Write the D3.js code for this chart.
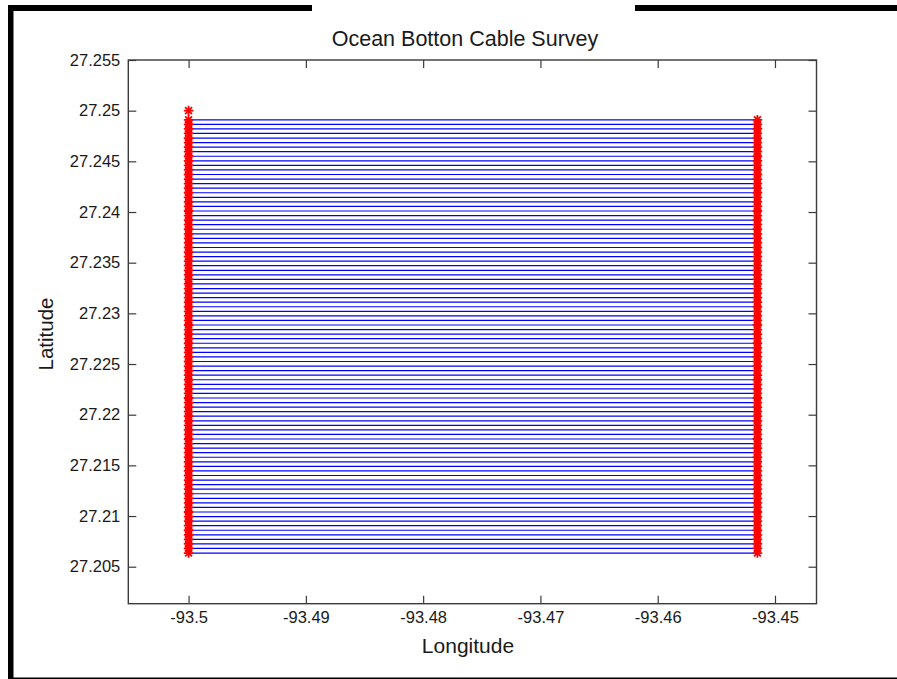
<!DOCTYPE html>
<html>
<head>
<meta charset="utf-8">
<script src="https://cdn.jsdelivr.net/npm/d3@7"></script>
<style>
  html, body { margin: 0; padding: 0; background: #fff; }
  svg { display: block; }
  text { font-family: "Liberation Sans", Arial, Helvetica, sans-serif; fill: #1a1a1a; }
</style>
</head>
<body>
<svg id="chart" width="897" height="679"></svg>
<script>
// Survey line latitudes (one east–west cable line per value)
const lineLatitudes = [
  27.2491, 27.24865, 27.2482, 27.24775, 27.2473, 27.24685, 27.2464, 27.24595, 27.2455, 27.24505,
  27.2446, 27.24415, 27.2437, 27.24325, 27.2428, 27.24235, 27.2419, 27.24145, 27.241, 27.24055,
  27.2401, 27.23965, 27.2392, 27.23875, 27.2383, 27.23785, 27.2374, 27.23695, 27.2365, 27.23605,
  27.2356, 27.23515, 27.2347, 27.23425, 27.2338, 27.23335, 27.2329, 27.23245, 27.232, 27.23155,
  27.2311, 27.23065, 27.2302, 27.22975, 27.2293, 27.22885, 27.2284, 27.22795, 27.2275, 27.22705,
  27.2266, 27.22615, 27.2257, 27.22525, 27.2248, 27.22435, 27.2239, 27.22345, 27.223, 27.22255,
  27.2221, 27.22165, 27.2212, 27.22075, 27.2203, 27.21985, 27.2194, 27.21895, 27.2185, 27.21805,
  27.2176, 27.21715, 27.2167, 27.21625, 27.2158, 27.21535, 27.2149, 27.21445, 27.214, 27.21355,
  27.2131, 27.21265, 27.2122, 27.21175, 27.2113, 27.21085, 27.2104, 27.20995, 27.2095, 27.20905,
  27.2086, 27.20815, 27.2077, 27.20725, 27.2068, 27.20635
];
// Line end longitudes
const westLongitude = -93.5;
const eastLongitude = -93.4515;
// Extra station at the north end of the west column
const westExtraLatitudes = [27.25];

// Axis limits and ticks
const xDomain = [-93.50514, -93.44646];
const yDomain = [27.20135, 27.255];
const xTicks = [-93.5, -93.49, -93.48, -93.47, -93.46, -93.45];
const yTicks = [27.205, 27.21, 27.215, 27.22, 27.225, 27.23, 27.235, 27.24, 27.245, 27.25, 27.255];

const titleText = "Ocean Botton Cable Survey";
const xLabelText = "Longitude";
const yLabelText = "Latitude";

const svg = d3.select("#chart");

// Page frame bars
const frame = svg.append("g").attr("fill", "#000");
frame.append("rect").attr("x", 8).attr("y", 5).attr("width", 5.5).attr("height", 674);
frame.append("rect").attr("x", 8).attr("y", 5).attr("width", 304).attr("height", 6);
frame.append("rect").attr("x", 635).attr("y", 5).attr("width", 262).attr("height", 6);
frame.append("rect").attr("x", 8).attr("y", 677.5).attr("width", 889).attr("height", 1.5);

const plot = { left: 128.3, right: 816.5, top: 60, bottom: 603.7 };

const x = d3.scaleLinear().domain(xDomain).range([plot.left, plot.right]);
const y = d3.scaleLinear().domain(yDomain).range([plot.bottom, plot.top]);

const fmt = d => String(Math.round(d * 1000) / 1000);
const tickLen = 8;
const axisColor = "#3a3a3a";

function styleAxis(g) {
  g.select(".domain").remove();
  g.selectAll(".tick line").attr("stroke", axisColor).attr("stroke-width", 1.2);
  g.selectAll(".tick text").attr("fill", "#1a1a1a").style("font-size", "16.5px")
    .style("font-family", "'Liberation Sans', Arial, sans-serif");
}

// Bottom axis with labels
svg.append("g")
  .attr("transform", `translate(0,${plot.bottom})`)
  .call(d3.axisBottom(x).tickValues(xTicks).tickFormat(fmt).tickSizeInner(-tickLen).tickSizeOuter(0).tickPadding(8))
  .call(styleAxis);
// Top axis ticks
svg.append("g")
  .attr("transform", `translate(0,${plot.top})`)
  .call(d3.axisTop(x).tickValues(xTicks).tickFormat("").tickSizeInner(-tickLen).tickSizeOuter(0))
  .call(styleAxis);
// Left axis with labels
svg.append("g")
  .attr("transform", `translate(${plot.left},0)`)
  .call(d3.axisLeft(y).tickValues(yTicks).tickFormat(fmt).tickSizeInner(-tickLen).tickSizeOuter(0).tickPadding(8))
  .call(styleAxis);
// Right axis ticks
svg.append("g")
  .attr("transform", `translate(${plot.right},0)`)
  .call(d3.axisRight(y).tickValues(yTicks).tickFormat("").tickSizeInner(-tickLen).tickSizeOuter(0))
  .call(styleAxis);

// Axes box
svg.append("rect")
  .attr("x", plot.left).attr("y", plot.top)
  .attr("width", plot.right - plot.left).attr("height", plot.bottom - plot.top)
  .attr("fill", "none").attr("stroke", axisColor).attr("stroke-width", 1.4);

// Cable lines
svg.append("g")
  .selectAll("line")
  .data(lineLatitudes)
  .join("line")
  .attr("x1", x(westLongitude))
  .attr("x2", x(eastLongitude))
  .attr("y1", d => y(d))
  .attr("y2", d => y(d))
  .attr("stroke", "#0000ff")
  .attr("stroke-width", 1.2);

// Asterisk markers at the line ends
const r = 4.8, rd = r * 0.72;
const asterisk = `M${-r},0L${r},0M0,${-r}L0,${r}M${-rd},${-rd}L${rd},${rd}M${-rd},${rd}L${rd},${-rd}`;
const stations = [
  ...westExtraLatitudes.map(lat => ({ lon: westLongitude, lat })),
  ...lineLatitudes.map(lat => ({ lon: westLongitude, lat })),
  ...lineLatitudes.map(lat => ({ lon: eastLongitude, lat }))
];
svg.append("g")
  .selectAll("path")
  .data(stations)
  .join("path")
  .attr("transform", d => `translate(${x(d.lon)},${y(d.lat)})`)
  .attr("d", asterisk)
  .attr("fill", "none")
  .attr("stroke", "#ff0000")
  .attr("stroke-width", 1.8);

// Title and axis labels
svg.append("text")
  .attr("x", 465).attr("y", 46)
  .attr("text-anchor", "middle")
  .style("font-size", "21.5px")
  .text(titleText);

svg.append("text")
  .attr("x", 468).attr("y", 653)
  .attr("text-anchor", "middle")
  .style("font-size", "21px")
  .text(xLabelText);

svg.append("text")
  .attr("transform", "translate(53,334) rotate(-90)")
  .attr("text-anchor", "middle")
  .style("font-size", "20.5px")
  .text(yLabelText);
</script>
</body>
</html>
